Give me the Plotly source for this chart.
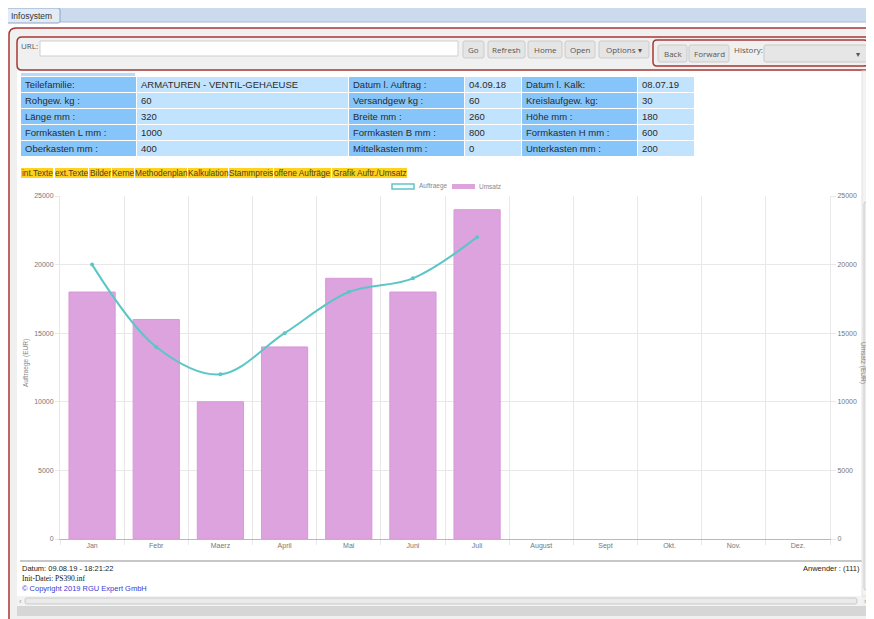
import plotly.graph_objects as go

# ---------------- data ----------------
months = ["Jan", "Febr", "Maerz", "April", "Mai", "Juni", "Juli",
          "August", "Sept", "Okt.", "Nov.", "Dez."]
auftraege = [20000, 14000, 12000, 15000, 18000, 19000, 22000,
             None, None, None, None, None]
umsatz = [18000, 16000, 10000, 14000, 19000, 18000, 24000,
          None, None, None, None, None]
y_tick_values = [0, 5000, 10000, 15000, 20000, 25000]

info_labels_1 = ["Teilefamilie:", "Rohgew. kg :", "Länge mm :", "Formkasten L mm :", "Oberkasten mm :"]
info_values_1 = ["ARMATUREN - VENTIL-GEHAEUSE", "60", "320", "1000", "400"]
info_labels_2 = ["Datum l. Auftrag :", "Versandgew kg :", "Breite mm :", "Formkasten B mm :", "Mittelkasten mm :"]
info_values_2 = ["04.09.18", "60", "260", "800", "0"]
info_labels_3 = ["Datum l. Kalk:", "Kreislaufgew. kg:", "Höhe mm :", "Formkasten H mm :", "Unterkasten mm :"]
info_values_3 = ["08.07.19", "30", "180", "600", "200"]

link_items = ["int.Texte", "ext.Texte", "Bilder", "Kerne", "Methodenplan",
              "Kalkulation", "Stammpreis", "offene Aufträge", "Grafik Auftr./Umsatz"]
toolbar_buttons = ["Go", "Refresh", "Home", "Open", "Options ▾"]
nav_buttons = ["Back", "Forward"]

footer_left = ["Datum: 09.08.19 - 18:21:22", "Init-Datei: PS390.inf", "© Copyright 2019 RGU Expert GmbH"]
footer_right = "Anwender : (111)"

# ---------------- layout geometry (window pixel coordinates) ----------------
WIN_W, WIN_H = 874, 619
OFF = 8                      # page body margin the figure sits in
W, H = WIN_W - OFF, WIN_H - OFF
L, R, T, B = 60, 830, 196, 539   # plot area in window pixels
FONT = "Liberation Sans, Arial, sans-serif"
UIFONT = "Open Sans, Noto Sans, sans-serif"
TEAL = "#5cc6c6"
PLUM = "#dda3de"
RED = "#a83636"


def X(p):
    return (p - L) / (R - L)


def Y(p):
    return (B - p) / (B - T)


shapes = []
annotations = []


def rect(x0, y0, x1, y1, fill=None, line=None, lw=1, layer="below"):
    shapes.append(dict(type="rect", xref="paper", yref="paper",
                       x0=X(x0), x1=X(x1), y0=Y(y1), y1=Y(y0),
                       fillcolor=fill or "rgba(0,0,0,0)",
                       line=dict(color=line or "rgba(0,0,0,0)", width=lw if line else 0),
                       layer=layer))


def rrect(x0, y0, x1, y1, r=3, fill=None, line=None, lw=1, layer="below"):
    p = (f"M {X(x0 + r)},{Y(y0)} L {X(x1 - r)},{Y(y0)} Q {X(x1)},{Y(y0)} {X(x1)},{Y(y0 + r)} "
         f"L {X(x1)},{Y(y1 - r)} Q {X(x1)},{Y(y1)} {X(x1 - r)},{Y(y1)} "
         f"L {X(x0 + r)},{Y(y1)} Q {X(x0)},{Y(y1)} {X(x0)},{Y(y1 - r)} "
         f"L {X(x0)},{Y(y0 + r)} Q {X(x0)},{Y(y0)} {X(x0 + r)},{Y(y0)} Z")
    shapes.append(dict(type="path", xref="paper", yref="paper", path=p,
                       fillcolor=fill or "rgba(0,0,0,0)",
                       line=dict(color=line or "rgba(0,0,0,0)", width=lw if line else 0),
                       layer=layer))


def hline(x0, x1, y, color, lw=1):
    shapes.append(dict(type="line", xref="paper", yref="paper",
                       x0=X(x0), x1=X(x1), y0=Y(y), y1=Y(y),
                       line=dict(color=color, width=lw), layer="below"))


def text(x, y, s, size=9, color="#333", anchor="left", family=FONT, angle=0):
    annotations.append(dict(xref="paper", yref="paper", x=X(x), y=Y(y), text=s,
                            showarrow=False, xanchor=anchor, yanchor="middle",
                            textangle=angle, borderpad=0,
                            font=dict(size=size, color=color, family=family)))


# tab bar
rect(0, 6, 874, 22, fill="#cbdaec")
hline(0, 874, 6, "#a9bcd4", 1)
hline(0, 874, 22, "#a9bcd4", 1)
rrect(5, 8, 60, 23, r=2, fill="#e2ebf6", line="#8ea5c3")
text(10, 15.5, "Infosystem", 8.5, "#333", family=FONT)

# outer frame
rrect(9, 28, 873, 640, r=7, fill="#f0f0f0", line=RED, lw=1.5)
# content area
rect(17, 71, 862, 596, fill="#ffffff")

# toolbar
rrect(17, 37, 870, 70, r=5, fill="#f0f0f0", line=RED, lw=1.5)
rrect(653, 40, 868, 66, r=4, fill="#f0f0f0", line=RED, lw=1.5)
text(20, 45, "URL:", 8, "#555", family=UIFONT)
rect(40, 41, 458, 56, fill="#ffffff", line="#cfcfcf")
btn_x = [(463, 484), (488, 525), (528, 562), (565, 595), (599, 649)]
for name, (x0, x1) in zip(toolbar_buttons, btn_x):
    rrect(x0, 41, x1, 58, r=2, fill="#e5e5e5", line="#cbcbcb")
    text((x0 + x1) / 2, 49.5, name, 8, "#555", anchor="center", family=UIFONT)
nav_x = [(658, 687), (689, 729)]
for name, (x0, x1) in zip(nav_buttons, nav_x):
    rrect(x0, 45, x1, 62, r=2, fill="#e5e5e5", line="#cbcbcb")
    text((x0 + x1) / 2, 53.5, name, 8, "#555", anchor="center", family=UIFONT)
text(733, 49, "History:", 8, "#555", family=UIFONT)
rrect(764, 45, 867, 62, r=2, fill="#e6e6e6", line="#c8c8c8")
text(858, 53.5, "▾", 8, "#555", anchor="center", family=UIFONT)

# info table
LABEL_C = "#86c5fa"
VALUE_C = "#c1e3fd"
rect(21, 73, 135, 76, fill="#b5dcfc")
cols = [(21, 136), (137, 348), (349, 464), (465, 521), (522, 637), (638, 694)]
col_texts = [info_labels_1, info_values_1, info_labels_2, info_values_2, info_labels_3, info_values_3]
for ci, ((x0, x1), txts) in enumerate(zip(cols, col_texts)):
    fill = LABEL_C if ci % 2 == 0 else VALUE_C
    for ri, t in enumerate(txts):
        y0 = 76 + 16 * ri
        rect(x0, y0 + 1, x1, y0 + 16, fill=fill)
        text(x0 + 3, y0 + 8.8, t, 9.5, "#2a2a2a")

# link strip
link_x = [(21, 53), (55, 88), (89, 111), (112, 134), (135, 187),
          (188, 228), (229, 273), (274, 331), (332, 407)]
for name, (x0, x1) in zip(link_items, link_x):
    rect(x0, 168, x1, 178, fill="#ffd21e")
    text((x0 + x1) / 2, 173, name, 8.3, "#4a4020", anchor="center")

# legend (manual)
rect(392, 184, 414, 189, fill="#ffffff", line=TEAL, lw=1.5)
text(418, 186.5, "Auftraege", 6.5, "#888")
rect(452, 184, 475, 189, fill=PLUM)
text(478, 186.5, "Umsatz", 6.5, "#888")

# axis titles
text(26, 363, "Auftraege (EUR)", 6.5, "#888", anchor="center", angle=-90)
text(863, 363, "Umsatz (EUR)", 6.5, "#888", anchor="center", angle=90)

# footer
hline(20, 862, 561, "#b4b4b4", 1.5)
text(21, 568.5, footer_left[0], 7.5, "#222")
text(21, 578.5, footer_left[1], 7.5, "#111", family="Liberation Serif, DejaVu Serif, serif")
text(21, 588, footer_left[2], 7.5, "#3a3ad0")
text(861, 568.5, footer_right, 7.5, "#222", anchor="right")

# scrollbars
rect(862, 71, 873, 596, fill="#f3f3f3", line="#e2e2e2")
rrect(864, 202, 872, 590, r=2, fill="#ececec", line="#c9c9c9")
text(867.5, 76, "˄", 7, "#999", anchor="center")
text(867.5, 592, "˅", 7, "#999", anchor="center")
rect(17, 596, 862, 606, fill="#f3f3f3")
rrect(25, 598, 857, 604, r=2, fill="#eaeaea", line="#c9c9c9")
text(20, 601, "‹", 8, "#999", anchor="center")
text(865, 601, "›", 8, "#999", anchor="center")
rect(17, 606, 873, 616, fill="#d6d6d6")

# ---------------- traces ----------------
fig = go.Figure()
fig.add_trace(go.Bar(
    x=months, y=umsatz, name="Umsatz", yaxis="y",
    marker=dict(color=PLUM, line=dict(color="#d898d9", width=1)),
    width=0.72, showlegend=False, hoverinfo="x+y",
))
fig.add_trace(go.Scatter(
    x=months, y=auftraege, name="Auftraege", yaxis="y2",
    mode="lines+markers", line=dict(color=TEAL, width=2, shape="spline", smoothing=1.0),
    marker=dict(size=4, color=TEAL), showlegend=False,
))

grid = "#e8e8e8"
tickfont = dict(size=7, color="#777", family=FONT)
fig.update_layout(
    width=W, height=H, autosize=False,
    margin=dict(l=L - OFF, r=WIN_W - R, t=T - OFF, b=WIN_H - B, pad=0),
    paper_bgcolor="#ffffff", plot_bgcolor="#ffffff",
    font=dict(family=FONT),
    shapes=shapes, annotations=annotations,
    showlegend=False,
    xaxis=dict(type="category", categoryorder="array", categoryarray=months,
               range=[-0.5, 11.5], tickson="boundaries",
               showgrid=True, gridcolor=grid, gridwidth=1,
               ticks="outside", ticklen=5, tickcolor=grid,
               showline=True, linecolor="#b9b9b9", linewidth=1,
               tickfont=tickfont, fixedrange=True),
    yaxis=dict(side="right", range=[0, 25000], tickvals=y_tick_values, tickformat="d",
               showgrid=True, gridcolor=grid, gridwidth=1, zeroline=False,
               ticks="outside", ticklen=5, tickcolor=grid,
               showline=True, linecolor=grid, tickfont=tickfont, fixedrange=True),
    yaxis2=dict(side="left", overlaying="y", range=[0, 25000], tickvals=y_tick_values,
                tickformat="d", showgrid=False, zeroline=False,
                ticks="outside", ticklen=4, tickcolor=grid,
                showline=True, linecolor=grid, tickfont=tickfont, fixedrange=True),
)

fig.write_html("out.html")
